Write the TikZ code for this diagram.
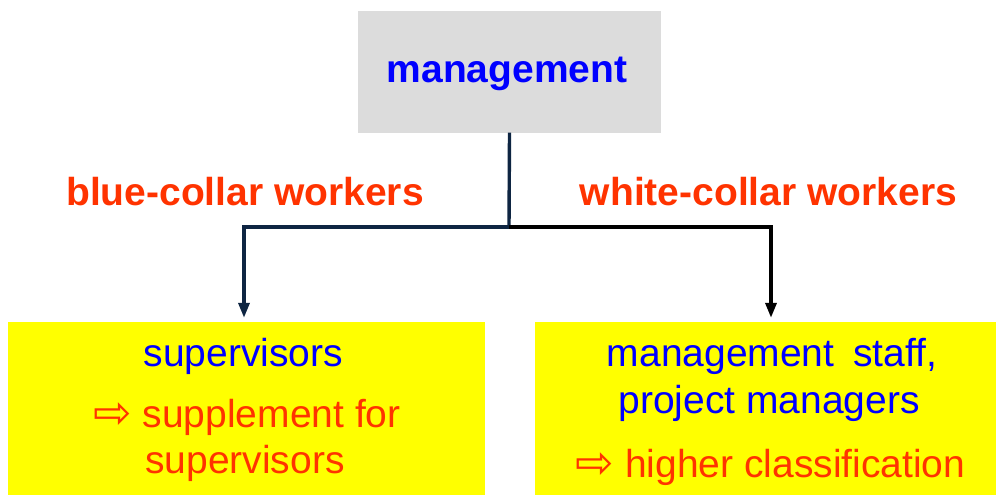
\documentclass[tikz,border=0pt]{standalone}
\usepackage{fontspec}
\setmainfont{Liberation Sans}
\newfontfamily\symfont{DejaVu Sans}
\usetikzlibrary{arrows.meta}
\definecolor{txtblue}{HTML}{0000FF}
\definecolor{txtorange}{HTML}{FF3300}
\definecolor{boxgray}{HTML}{DCDCDC}
\definecolor{boxyellow}{HTML}{FFFF00}
\definecolor{linenavy}{HTML}{0E2542}
\newcommand{\hintarrow}{{\symfont\fontsize{46}{46}\selectfont\raisebox{-1pt}{⇨}}}
\begin{document}
\begin{tikzpicture}[x=1pt,y=-1pt,
  boxnode/.style={draw=none, inner sep=0pt, anchor=center},
  bluetxt/.style={inner sep=0pt, anchor=base, text=txtblue, font=\fontsize{39}{47}\selectfont},
  orangetxt/.style={inner sep=0pt, anchor=base, text=txtorange, font=\fontsize{39}{47}\selectfont},
  lbl/.style={inner sep=0pt, anchor=base, text=txtorange, font=\fontsize{39}{47}\selectfont\bfseries},
  conn/.style={line width=3.4pt, -{Triangle[width=11pt,length=15pt]}, shorten >=4pt}
]
\useasboundingbox (0,0) rectangle (996,495);
% boxes
\node[boxnode, fill=boxgray, minimum width=303pt, minimum height=121pt] (mgmt) at (509.5,72) {};
\node[boxnode, fill=boxyellow, minimum width=477pt, minimum height=173pt] (sup) at (246.5,408.5) {};
\node[boxnode, fill=boxyellow, minimum width=461pt, minimum height=173pt] (staff) at (765.5,408.5) {};
% texts
\node[bluetxt, font=\fontsize{39}{47}\selectfont\bfseries] (mgmtlbl) at (507,82) {management};
\node[lbl] (blue) at (245,205) {blue-collar workers};
\node[lbl] (white) at (768.5,205) {white-collar workers};
\node[bluetxt] (s1) at (243.5,366) {supervisors};
\node[orangetxt] (s2) at (247,427) {\hintarrow\ supplement for};
\node[orangetxt] (s3) at (245,473) {supervisors};
\node[bluetxt] (m1) at (772,366) {management\hspace{8pt} staff,};
\node[bluetxt] (m2) at (769,413) {project managers};
\node[orangetxt] (m3) at (770.5,477) {\hintarrow\ higher classification};
% connectors
\coordinate (j) at (509,227);
\draw[line width=3.4pt, linenavy] (mgmt.south) -- (j);
\draw[conn, linenavy] (j) -| ([xshift=-2.5pt]sup.north);
\draw[conn, black] (j) -| ([xshift=5.5pt]staff.north);
\end{tikzpicture}
\end{document}
